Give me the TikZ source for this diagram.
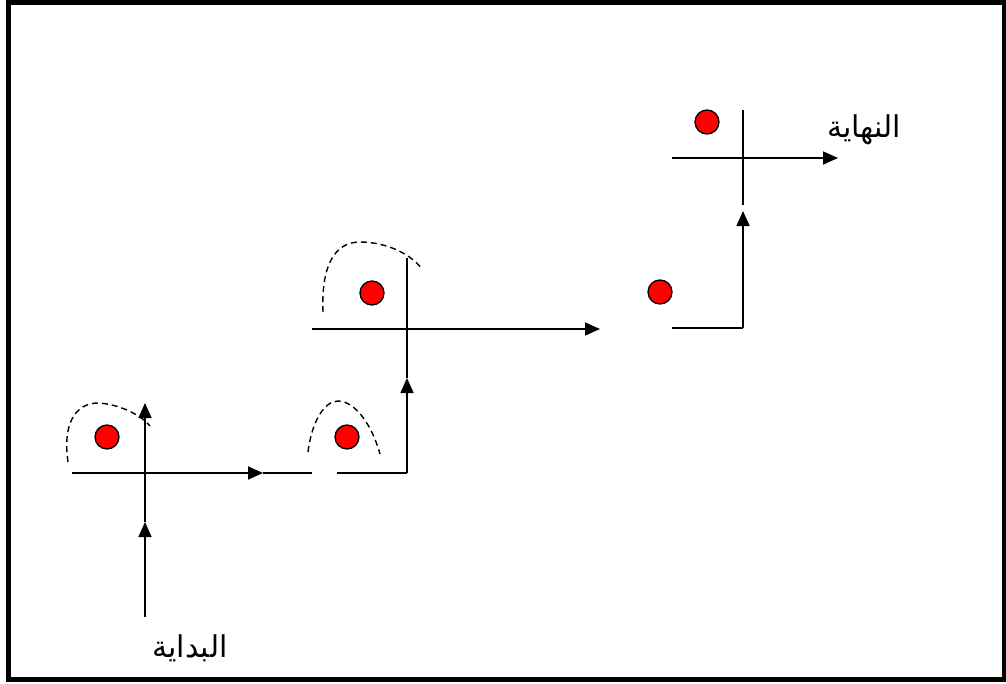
\documentclass[tikz,border=0pt]{standalone}
\usepackage{fontspec}
\newfontfamily\arabicfont[Script=Arabic]{DejaVu Sans}
\TeXXeTstate=1
\usetikzlibrary{arrows.meta}
\begin{document}
\begin{tikzpicture}[x=1pt,y=-1pt,
  line/.style={line width=1.7pt},
  arr/.style={line width=1.7pt,-{Triangle[length=15pt,width=13pt]}},
  dashcurve/.style={line width=1.4pt,dash pattern=on 6pt off 4pt},
  dot/.style={circle,draw=black,line width=1.3pt,fill=red,minimum size=24pt,inner sep=0pt},
  lbl/.style={font=\arabicfont\fontsize{30}{36}\selectfont,inner sep=0pt}]
\useasboundingbox (0,0) rectangle (1006,683);
\draw[line width=5pt] (8,2) rectangle (1004,679);

% red dots
\node[dot] (d1) at (107,437) {};
\node[dot] (d2) at (347,437) {};
\node[dot] (d3) at (372,293) {};
\node[dot] (d4) at (660,292) {};
\node[dot] (d5) at (707,122) {};

% labels
\node[lbl] (start) at (190,648) {\beginR البداية\endR};
\node[lbl] (end) at (864,130) {\beginR النهاية\endR};

% coordinates
\coordinate (a0) at (145,617);
\coordinate (a1) at (145,522);
\coordinate (a2) at (145,403);
\coordinate (h0) at (72,473);
\coordinate (h1) at (263,473);
\coordinate (h2) at (312,473);
\coordinate (h3) at (337,473);
\coordinate (c1) at (407,473);
\coordinate (v1) at (407,378);
\coordinate (v2) at (407,258);
\coordinate (m0) at (312,329);
\coordinate (m1) at (600,329);
\coordinate (r0) at (672,328);
\coordinate (c2) at (743,328);
\coordinate (r1) at (743,211);
\coordinate (r2) at (743,205);
\coordinate (r3) at (743,110);
\coordinate (t0) at (672,158);
\coordinate (t1) at (838,158);

% connectors
\draw[arr] (a0) -- (a1);
\draw[arr] (a1) -- (a2);
\draw[arr] (h0) -- (h1);
\draw[line] (h1) -- (h2);
\draw[line] (h3) -- (c1);
\draw[arr] (c1) -- (v1);
\draw[line] (v1) -- (v2);
\draw[arr] (m0) -- (m1);
\draw[line] (r0) -- (c2);
\draw[arr] (c2) -- (r1);
\draw[line] (r2) -- (r3);
\draw[arr] (t0) -- (t1);

% dashed curves
\draw[dashcurve] (68,462) .. controls (62,420) and (78,403) .. (98,403) .. controls (118,404) and (140,414) .. (150,426);
\draw[dashcurve] (308,452) .. controls (312,420) and (325,401) .. (338,401) .. controls (355,401) and (372,425) .. (380,454);
\draw[dashcurve] (323,312) .. controls (321,265) and (335,242) .. (360,242) .. controls (385,242) and (410,253) .. (422,269);
\end{tikzpicture}
\end{document}
